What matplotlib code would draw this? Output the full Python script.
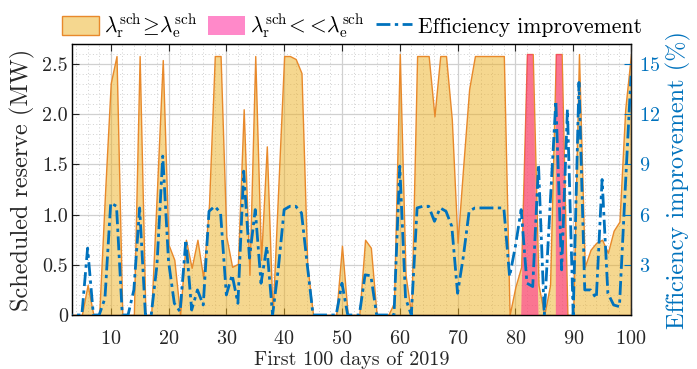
import numpy as np
import matplotlib
matplotlib.use('Agg')
import matplotlib.pyplot as plt
from matplotlib.patches import Patch
from matplotlib.lines import Line2D
from matplotlib.ticker import MultipleLocator

plt.rcParams['font.family'] = 'serif'
plt.rcParams['font.serif'] = ['cmr10', 'DejaVu Serif']
plt.rcParams['mathtext.fontset'] = 'cm'
plt.rcParams['axes.formatter.use_mathtext'] = True

nan = np.nan
days = list(range(1, 101))

# Scheduled reserve (MW), lambda_r >= lambda_e
reserve = [0, 0, 0, 0, 0, 0.30, 0, 0, 1.20, 2.31,
           2.58, 0, 0, 0, 2.58, 0, 0, 1.25, 2.54, 0.70,
           0.55, 0, 0.75, 0.47, 0.75, 0.37, 1.10, 2.58, 2.58, 0.78,
           0.48, 0.51, 2.05, 0.40, 2.58, 0.55, 1.68, 0, 1.29, 2.58,
           2.58, 2.55, 2.41, 0.50, 0, 0, 0, 0, 0, 0.69,
           0, 0, 0, 0.75, 0.67, 0, 0, 0, 0.12, 2.60,
           0.40, 0, 2.58, 2.58, 2.58, 1.98, 2.58, 2.58, 1.95, 0.72,
           1.50, 2.25, 2.58, 2.58, 2.58, 2.58, 2.58, 2.58, 0, 0.28,
           0.48, 2.60, 2.60, 0.30, 0, 0.30, 2.60, 2.60, 0, 0,
           2.60, 0.48, 0.65, 0.72, 0.75, 0.62, 0.84, 0.93, 2.05, 2.60]

# Scheduled reserve (MW), lambda_r << lambda_e
reserve_low = [nan] * 80 + [0, 2.60, 2.60, 0, nan, nan, 2.60, 2.60, 0, nan] + [nan] * 10

# Efficiency improvement (%)
efficiency = [0, 0, 0, 0, 0, 4.0, 0, 0, 1.0, 6.7,
              6.5, 0, 0, 1.5, 6.4, 0, 0, 3.0, 9.5, 3.2,
              0.7, 0.2, 4.5, 0.3, 1.5, 0.6, 6.2, 6.5, 6.1, 1.2,
              2.4, 0.7, 8.6, 3.4, 6.3, 1.9, 4.1, 0, 2.8, 6.3,
              6.5, 6.5, 6.1, 3.0, 0, 0, 0, 0, 0, 1.9,
              0, 0, 0, 2.4, 2.35, 0, 0, 0, 0, 8.9,
              1.0, 0, 6.4, 6.5, 6.5, 5.6, 6.4, 6.2, 5.3, 1.3,
              3.5, 6.2, 6.4, 6.4, 6.4, 6.4, 6.4, 6.4, 2.3, 4.1,
              6.3, 1.9, 1.7, 9.0, 0, 6.5, 12.8, 2.7, 12.3, 0,
              13.9, 1.5, 1.5, 1.0, 8.1, 1.3, 0.6, 0.5, 7.5, 14.3]

left_ticks = [0, 0.5, 1.0, 1.5, 2.0, 2.5]
left_labels = ['0', '0.5', '1.0', '1.5', '2.0', '2.5']
right_ticks = [3, 6, 9, 12, 15]
x_ticks = [10, 20, 30, 40, 50, 60, 70, 80, 90, 100]

orange_face = (0.93, 0.69, 0.13, 0.5)
orange_edge = '#E8892B'
pink_face = (1.0, 0.08, 0.58, 0.5)
blue = '#0072BD'
dash = (0, (5, 1.6, 1.2, 1.6))

fig = plt.figure(figsize=(6.97, 3.69), dpi=100)
ax = fig.add_axes([0.1033, 0.1463, 0.8020, 0.7345])

ax.fill_between(days, reserve, 0, facecolor=orange_face, edgecolor=orange_edge, lw=1.0, zorder=2)
ax.fill_between(days, reserve_low, 0, facecolor=pink_face, edgecolor='none', lw=0, zorder=3)

ax.set_xlim(3.3, 100)
ax.set_ylim(0, 2.7)
ax.set_xticks(x_ticks)
ax.set_yticks(left_ticks)
ax.set_yticklabels(left_labels)
ax.xaxis.set_minor_locator(MultipleLocator(2))
ax.yaxis.set_minor_locator(MultipleLocator(0.1))
ax.grid(which='major', color='#d0d0d0', lw=0.9)
ax.grid(which='minor', color='#d0d0d0', lw=0.7, ls=(0, (1, 2.5)))
ax.set_axisbelow(True)
ax.tick_params(which='major', direction='in', top=True, right=False, length=5,
               labelsize=14.5, color='#262626', labelcolor='#262626')
ax.tick_params(axis='x', which='major', pad=11)
ax.tick_params(axis='y', which='major', pad=3)
ax.tick_params(which='minor', length=0)
for s in ax.spines.values():
    s.set_color('#262626')
    s.set_linewidth(1.0)
ax.set_xlabel('First 100 days of 2019', fontsize=14.5, color='#262626', labelpad=2)
ax.set_ylabel('Scheduled reserve (MW)', fontsize=17.5, color='#262626', labelpad=5)

ax2 = ax.twinx()
ax2.plot(days, efficiency, color=blue, lw=2.0, ls=dash, zorder=4)
ax2.set_ylim(0, 16.2)
ax2.set_yticks(right_ticks)
ax2.tick_params(direction='in', length=5, labelsize=14.5, color=blue, labelcolor=blue, pad=6)
ax2.set_ylabel('Efficiency improvement (%)', fontsize=17.5, color=blue, labelpad=4)
ax2.spines['right'].set_color('#262626')

handles = [Patch(facecolor=orange_face, edgecolor=orange_edge, lw=1.0),
           Patch(facecolor=pink_face, edgecolor='none'),
           Line2D([], [], color=blue, lw=2.0, ls=dash)]
labels = [r'$\lambda_{\mathrm{r}}^{\mathrm{sch}}\!\geq\!\lambda_{\mathrm{e}}^{\mathrm{sch}}$',
          r'$\lambda_{\mathrm{r}}^{\mathrm{sch}}\!<\!<\!\lambda_{\mathrm{e}}^{\mathrm{sch}}$',
          'Efficiency improvement']
fig.legend(handles, labels, loc='lower center', bbox_to_anchor=(0.505, 0.885), ncol=3,
           frameon=False, fontsize=15.5, handlelength=1.7, handleheight=1.0,
           handletextpad=0.25, columnspacing=0.5, borderaxespad=0.0, borderpad=0.1)

fig.savefig('out.png', dpi=100)
